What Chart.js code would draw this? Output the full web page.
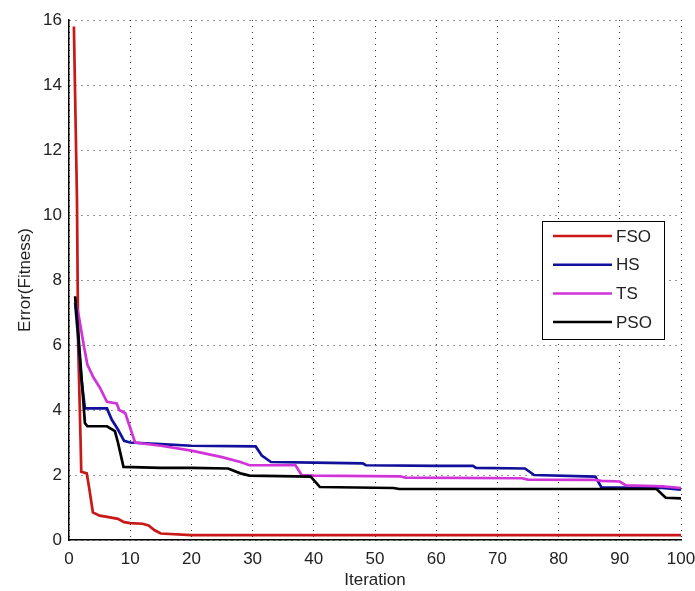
<!DOCTYPE html>
<html>
<head>
<meta charset="utf-8">
<script src="https://cdn.jsdelivr.net/npm/chart.js@4"></script>
<style>
  html, body { margin: 0; padding: 0; background: #fff; }
  #wrap { width: 695px; height: 591px; }
</style>
</head>
<body>
<div id="wrap"><canvas id="chart" width="695" height="591"></canvas></div>
<script>
// ── DATA ────────────────────────────────────────────────────────────────────
const seriesNames = ["FSO", "HS", "TS", "PSO"];

const fsoX = [0.8, 1.3, 1.5, 1.9, 2, 2.9, 3.3, 3.9, 5, 6, 8, 9, 10, 12, 13, 14, 15, 20, 100];
const fsoY = [15.8, 10.5, 6.0, 3.0, 2.1, 2.05, 1.6, 0.85, 0.75, 0.72, 0.65, 0.55, 0.52, 0.5, 0.45, 0.3, 0.2, 0.15, 0.15];

const hsX = [1, 1.5, 2, 2.6, 6.2, 7, 8, 9, 10, 15, 20, 30.5, 31.5, 33, 40, 48, 48.5, 60, 66, 66.5, 74.5, 76, 86, 87, 97, 100];
const hsY = [7.3, 6.2, 5.0, 4.05, 4.05, 3.7, 3.4, 3.05, 3.0, 2.95, 2.9, 2.88, 2.6, 2.4, 2.38, 2.36, 2.3, 2.28, 2.28, 2.22, 2.2, 2.0, 1.95, 1.62, 1.6, 1.55];

const tsX = [1, 1.5, 2.5, 3, 4, 5, 6.2, 7.8, 8.2, 9.2, 10.8, 15, 20, 25, 28, 29.5, 37, 38, 40, 54, 55, 74, 75, 86, 87, 90, 91, 97, 100];
const tsY = [7.4, 7.0, 5.9, 5.4, 5.0, 4.7, 4.25, 4.2, 4.0, 3.9, 3.0, 2.9, 2.75, 2.55, 2.4, 2.3, 2.3, 2.0, 1.98, 1.96, 1.92, 1.9, 1.86, 1.85, 1.82, 1.8, 1.68, 1.65, 1.6];

const psoX = [1, 1.5, 2.6, 3, 6.2, 7.5, 8, 8.9, 15, 20, 26, 28, 29.5, 39.5, 41, 53, 54, 96, 97.5, 100];
const psoY = [7.5, 6.4, 3.6, 3.5, 3.5, 3.35, 3.0, 2.25, 2.22, 2.22, 2.2, 2.05, 1.98, 1.95, 1.63, 1.6, 1.57, 1.57, 1.3, 1.28];

const xTicks = [0, 10, 20, 30, 40, 50, 60, 70, 80, 90, 100];
const yTicks = [0, 2, 4, 6, 8, 10, 12, 14, 16];

const colors = ["#c81818", "#10109a", "#d033d8", "#000000"];

function pts(xs, ys) { return xs.map((x, i) => ({ x: x, y: ys[i] })); }

const FONT = "'Liberation Sans', Arial, sans-serif";

// ── LEGEND (inside the axes, MATLAB style) ──────────────────────────────────
const boxLegend = {
  id: "boxLegend",
  afterDraw(chart) {
    const ctx = chart.ctx;
    const left = 542, top = 221, w = 122, h = 118;
    ctx.save();
    ctx.fillStyle = "#fff";
    ctx.fillRect(left, top, w, h);
    ctx.strokeStyle = "#000";
    ctx.lineWidth = 1;
    ctx.strokeRect(left + 0.5, top + 0.5, w, h);
    ctx.font = "17px " + FONT;
    ctx.textBaseline = "middle";
    ctx.textAlign = "left";
    chart.data.datasets.forEach((ds, i) => {
      const y = top + 15 + i * 28.7;
      ctx.beginPath();
      ctx.moveTo(left + 11, y);
      ctx.lineTo(left + 70, y);
      ctx.strokeStyle = ds.borderColor;
      ctx.lineWidth = 2.5;
      ctx.stroke();
      ctx.fillStyle = "#222";
      ctx.fillText(ds.label, left + 74, y + 1);
    });
    ctx.restore();
  }
};

// ── CHART ───────────────────────────────────────────────────────────────────
const seriesData = [pts(fsoX, fsoY), pts(hsX, hsY), pts(tsX, tsY), pts(psoX, psoY)];

new Chart(document.getElementById("chart").getContext("2d"), {
  type: "line",
  data: {
    datasets: seriesNames.map((name, i) => ({
      label: name,
      data: seriesData[i],
      borderColor: colors[i],
      backgroundColor: colors[i],
      borderWidth: 2.7,
      pointRadius: 0,
      tension: 0,
      fill: false,
      order: 3 - i
    }))
  },
  options: {
    responsive: false,
    animation: false,
    layout: { padding: { top: 20, right: 14, left: 0, bottom: 0 } },
    plugins: { legend: { display: false }, tooltip: { enabled: false } },
    scales: {
      x: {
        type: "linear",
        min: 0, max: 100,
        afterBuildTicks: (axis) => { axis.ticks = xTicks.map(v => ({ value: v })); },
        afterFit: (axis) => { axis.height = 51; axis.paddingRight = 0; axis.paddingLeft = 0; },
        grid: { color: "#333", lineWidth: 1, drawTicks: false },
        border: { display: true, color: "#000", width: 1.5, dash: [1, 5] },
        ticks: { color: "#222", font: { family: FONT, size: 17 }, padding: 9, maxRotation: 0 },
        title: { display: true, text: "Iteration", color: "#222", font: { family: FONT, size: 17 }, padding: { top: 0, bottom: 0 } }
      },
      y: {
        type: "linear",
        min: 0, max: 16,
        afterBuildTicks: (axis) => { axis.ticks = yTicks.map(v => ({ value: v })); },
        afterFit: (axis) => { axis.width = 69; axis.paddingTop = 0; axis.paddingBottom = 0; },
        grid: { color: "#333", lineWidth: 1, drawTicks: false },
        border: { display: true, color: "#000", width: 1.5, dash: [1, 5] },
        ticks: { color: "#222", font: { family: FONT, size: 17 }, padding: 7 },
        title: { display: true, text: "Error(Fitness)", color: "#222", font: { family: FONT, size: 17 }, padding: { top: 15, bottom: 0 } }
      }
    }
  },
  plugins: [boxLegend]
});
</script>
</body>
</html>
